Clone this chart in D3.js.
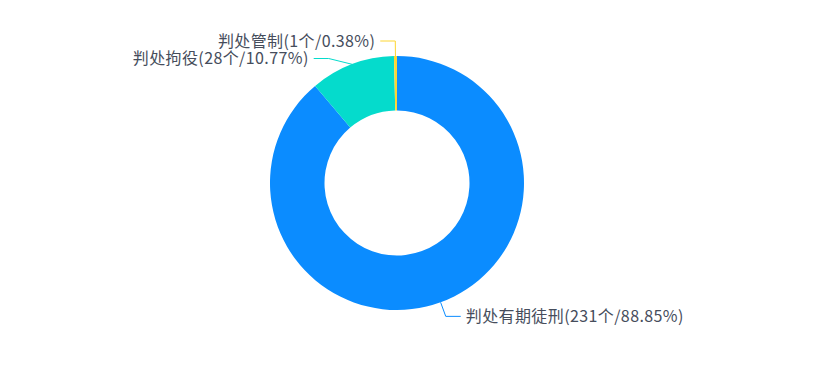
<!DOCTYPE html>
<html><head><meta charset="utf-8">
<script src="https://cdn.jsdelivr.net/npm/d3@7/dist/d3.min.js"></script>
<style>html,body{margin:0;padding:0;background:#fff;}svg{display:block;}</style>
</head><body>
<svg id="chart" width="830" height="368"></svg>
<script>
const categories = ["判处有期徒刑", "判处拘役", "判处管制"];
const counts = [231, 28, 1];
const percents = ["88.85%", "10.77%", "0.38%"];
const colors = ["#0b8cff", "#05dbcc", "#fdd633"];

const W = 830, H = 368;
const cx = 397, cy = 183, R = 127, r = 72.5;
const len1 = 15, len2 = 15, minGap = 17.5;

const svg = d3.select("#chart");
const g = svg.append("g").attr("transform", `translate(${cx},${cy})`);

const data = categories.map((c, i) => ({name: c, value: counts[i], pct: percents[i], color: colors[i]}));
const pie = d3.pie().value(d => d.value).sort(null);
const arcs = pie(data);
const arc = d3.arc().innerRadius(r).outerRadius(R);

g.selectAll("path.slice").data(arcs).enter().append("path")
  .attr("class", "slice").attr("d", arc).attr("fill", d => d.data.color);

// label layout
const labels = arcs.map(a => {
  const mid = (a.startAngle + a.endAngle) / 2;
  const sx = R * Math.sin(mid), sy = -R * Math.cos(mid);
  const y = -(R + len1) * Math.cos(mid);
  const right = Math.sin(mid) >= 0;
  return {a, mid, sx, sy, y, right};
});
["left", "right"].forEach(side => {
  const list = labels.filter(l => (side === "right") === l.right).sort((p, q) => p.y - q.y);
  for (let i = 1; i < list.length; i++) {
    if (list[i].y - list[i - 1].y < minGap) list[i].y = list[i - 1].y + minGap;
  }
});
labels.forEach(l => {
  const rr = R + len1;
  const dx = Math.sqrt(Math.max(0, rr * rr - l.y * l.y));
  l.ex = l.right ? dx : -dx;
  l.hx = l.ex + (l.right ? len2 : -len2);
});

g.selectAll("path.lline").data(labels).enter().append("path")
  .attr("class", "lline")
  .attr("d", l => `M${l.sx},${l.sy}L${l.ex},${l.y}L${l.hx},${l.y}`)
  .attr("fill", "none").attr("stroke", l => l.a.data.color).attr("stroke-width", 1);

g.selectAll("text.lbl").data(labels).enter().append("text")
  .attr("class", "lbl")
  .attr("x", l => l.hx + (l.right ? 5 : -5))
  .attr("y", l => l.y)
  .attr("dy", "0.35em")
  .attr("text-anchor", l => l.right ? "start" : "end")
  .attr("font-family", "'Noto Sans CJK SC', 'Noto Sans', sans-serif")
  .attr("font-size", 16)
  .attr("letter-spacing", 0.4)
  .attr("fill", "#464d5c")
  .text(l => `${l.a.data.name}(${l.a.data.value}个/${l.a.data.pct})`);
</script>
</body></html>
